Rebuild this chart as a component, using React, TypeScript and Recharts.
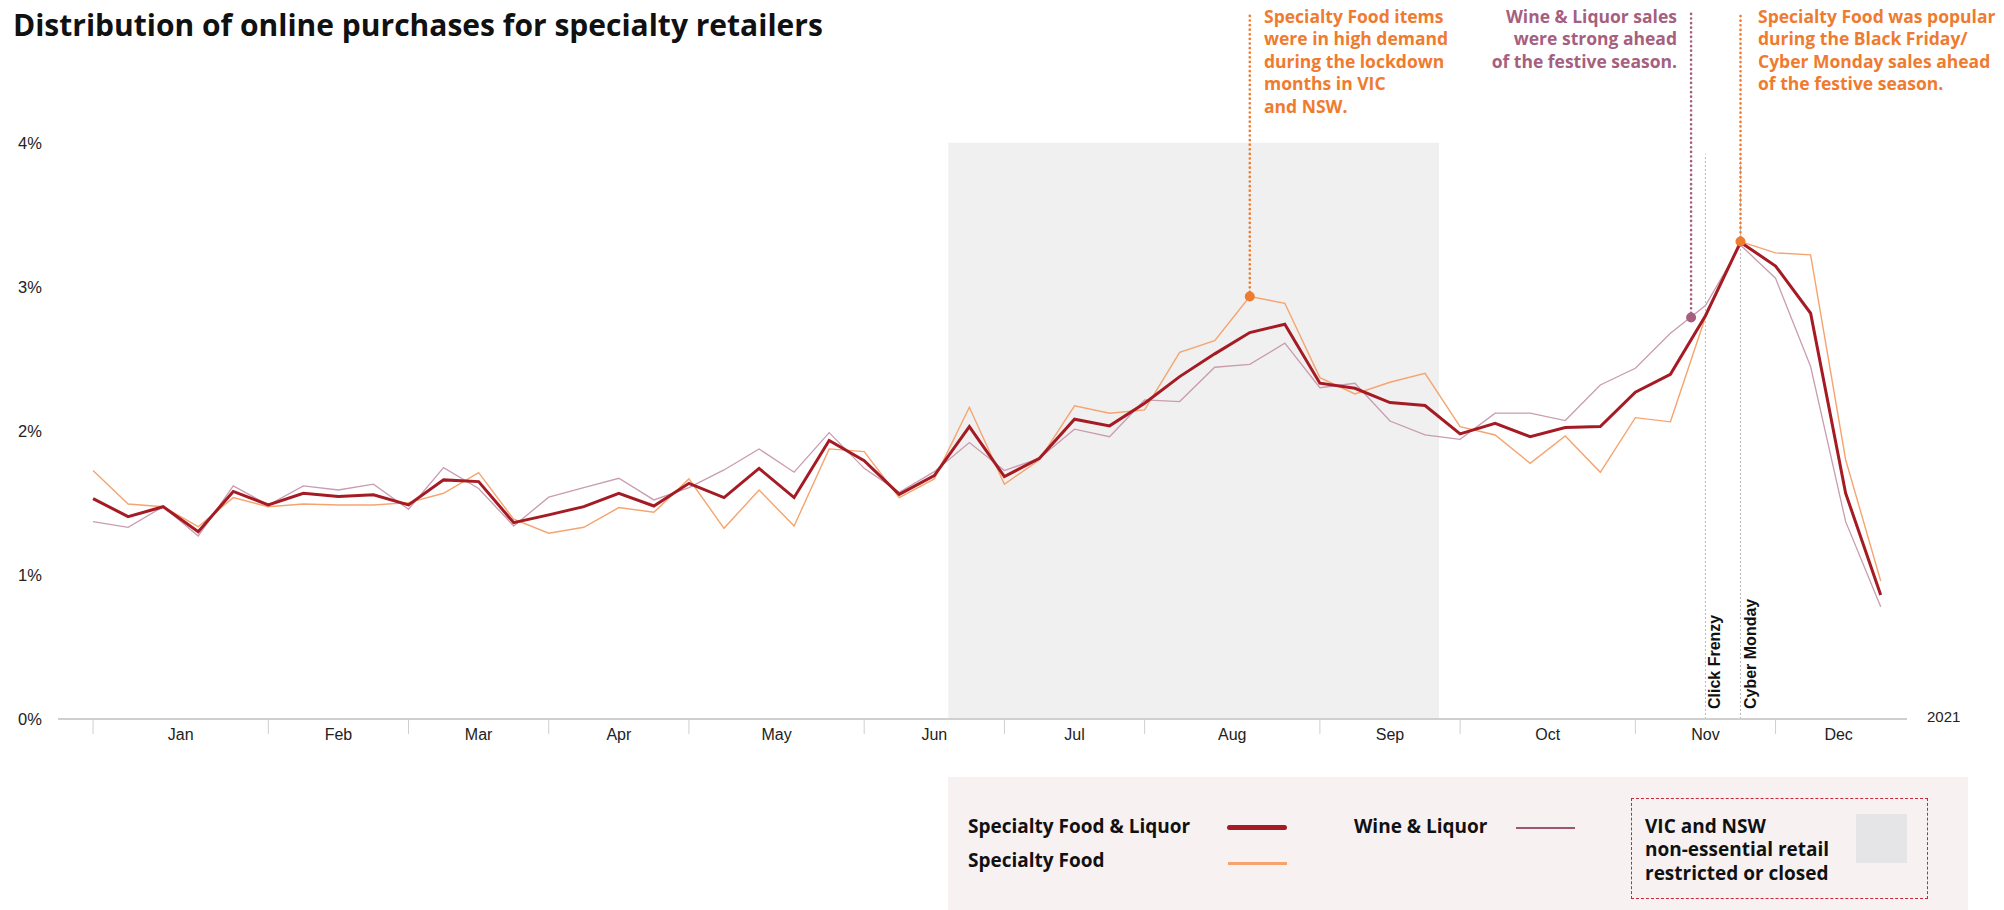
import React from 'react';
import {
  LineChart,
  Line,
  XAxis,
  YAxis,
  ReferenceArea,
  ReferenceLine,
  ReferenceDot,
} from 'recharts';

// weekly share of online purchases (%), 52 weeks of 2021
const foodAndLiquor = [
  1.53, 1.405, 1.474, 1.3, 1.58, 1.486, 1.567, 1.544, 1.556, 1.486, 1.66, 1.648, 1.363,
  1.417, 1.474, 1.567, 1.479, 1.636, 1.537, 1.74, 1.537, 1.933, 1.794, 1.56, 1.69, 2.03,
  1.683, 1.81, 2.081, 2.035, 2.192, 2.377, 2.535, 2.683, 2.74, 2.331, 2.296, 2.197, 2.176,
  1.979, 2.053, 1.96, 2.023, 2.03, 2.269, 2.393, 2.8, 3.31, 3.145, 2.817, 1.567, 0.861,
];
const specialtyFood = [
  1.725, 1.493, 1.474, 1.335, 1.537, 1.474, 1.493, 1.486, 1.486, 1.502, 1.567, 1.71, 1.387,
  1.29, 1.331, 1.468, 1.435, 1.667, 1.324, 1.59, 1.34, 1.875, 1.856, 1.537, 1.667, 2.164,
  1.63, 1.8, 2.174, 2.123, 2.146, 2.546, 2.627, 2.933, 2.886, 2.37, 2.257, 2.338, 2.4,
  2.03, 1.972, 1.775, 1.965, 1.713, 2.092, 2.063, 2.79, 3.315, 3.236, 3.222, 1.8, 0.958,
];
const wineAndLiquor = [
  1.37, 1.331, 1.474, 1.271, 1.618, 1.486, 1.618, 1.59, 1.63, 1.456, 1.745, 1.6, 1.34,
  1.54, 1.606, 1.671, 1.521, 1.606, 1.729, 1.875, 1.713, 1.988, 1.74, 1.574, 1.717, 1.919,
  1.725, 1.81, 2.012, 1.96, 2.215, 2.204, 2.442, 2.462, 2.609, 2.3, 2.331, 2.069, 1.972,
  1.942, 2.123, 2.123, 2.072, 2.319, 2.435, 2.678, 2.87, 3.29, 3.06, 2.447, 1.37, 0.78,
];

const monthNames = ['Jan', 'Feb', 'Mar', 'Apr', 'May', 'Jun', 'Jul', 'Aug', 'Sep', 'Oct', 'Nov', 'Dec'];
const monthStarts = [0, 5, 9, 13, 17, 22, 26, 30, 35, 39, 44, 48];
const yearEnd = 51.6;
const yTicks = [0, 1, 2, 3, 4];

const lockdown = { from: 24.4, to: 38.4, top: 4 };
const salesEvents = [
  { label: 'Click Frenzy', week: 46 },
  { label: 'Cyber Monday', week: 47 },
];
const callouts = [
  { week: 33, value: 2.933, kind: 'food' },
  { week: 45.59, value: 2.787, kind: 'wine' },
  { week: 47, value: 3.315, kind: 'food' },
];

const DARK = '#a51b24';
const ORANGE_LINE = '#f5a46f';
const MAUVE_LINE = '#c99cb0';
const ORANGE = '#ef7b2f';
const MAUVE = '#a65f80';
const AXIS_FONT = '"Liberation Sans", Arial, sans-serif';
const TEXT_FONT = '"Open Sans", sans-serif';

const chartData = foodAndLiquor.map((v, i) => ({
  week: i,
  sfl: v,
  sf: specialtyFood[i],
  wl: wineAndLiquor[i],
}));

const monthMids = monthStarts.map((s, i) => (s + (monthStarts[i + 1] ?? yearEnd)) / 2);
const xTicks = [...monthStarts, ...monthMids].sort((a, b) => a - b);

const MonthTick = (props: any) => {
  const { x, y, payload } = props;
  const v = payload.value;
  if (monthStarts.includes(v)) {
    return <line x1={x} x2={x} y1={y} y2={y + 15} stroke="#cfcfcf" strokeWidth={1} />;
  }
  const idx = monthMids.indexOf(v);
  return (
    <text x={x} y={y + 15} dy="0.35em" textAnchor="middle" fontSize={16} fontFamily={AXIS_FONT} fill="#222">
      {monthNames[idx]}
    </text>
  );
};

const PercentTick = (props: any) => {
  const { y, payload } = props;
  return (
    <text x={18} y={y} dy="0.35em" textAnchor="start" fontSize={16.5} fontFamily={AXIS_FONT} fill="#222">
      {payload.value}%
    </text>
  );
};

const eventLabel = (label: string) => (props: any) => {
  const { cx, cy } = props;
  const tx = cx + 15;
  const ty = cy - 10;
  return (
    <text
      x={tx}
      y={ty}
      transform={`rotate(-90, ${tx}, ${ty})`}
      fontSize={16}
      fontWeight="bold"
      fontFamily={AXIS_FONT}
      fill="#111"
    >
      {label}
    </text>
  );
};

const noteStyle: React.CSSProperties = {
  position: 'absolute',
  top: 4.5,
  fontFamily: TEXT_FONT,
  fontWeight: 700,
  fontSize: 17.5,
  lineHeight: '22.5px',
  whiteSpace: 'nowrap',
};

const legendText: React.CSSProperties = {
  position: 'absolute',
  fontFamily: TEXT_FONT,
  fontWeight: 700,
  fontSize: 19,
  lineHeight: '24px',
  color: '#111',
  whiteSpace: 'nowrap',
};

const App: React.FC = () => {
  return (
    <div style={{ position: 'absolute', left: 0, top: 0, width: 2004, height: 910, background: '#fff', overflow: 'hidden' }}>
      <LineChart width={2004} height={910} data={chartData} margin={{ top: 6, right: 97, left: 18, bottom: 0 }}>
        <XAxis
          type="number"
          dataKey="week"
          domain={[-1, 51.75]}
          ticks={xTicks}
          interval={0}
          tickSize={0}
          tickMargin={0}
          tickLine={false}
          axisLine={{ stroke: '#cfcfcf', strokeWidth: 2 }}
          tick={<MonthTick />}
          height={191}
        />
        <YAxis
          type="number"
          domain={[0, 4.95]}
          ticks={yTicks}
          axisLine={false}
          tickLine={false}
          tick={<PercentTick />}
          width={40}
        />
        <ReferenceArea
          x1={lockdown.from}
          x2={lockdown.to}
          y1={0}
          y2={lockdown.top}
          fill="#f0f0f0"
          fillOpacity={1}
          stroke="none"
        />
        {salesEvents.map((e) => (
          <ReferenceLine
            key={e.label}
            segment={[{ x: e.week, y: 0 }, { x: e.week, y: 3.92 }]}
            stroke="#b8b8b8"
            strokeWidth={1}
            strokeDasharray="2 2"
          />
        ))}
        <Line type="linear" dataKey="wl" stroke={MAUVE_LINE} strokeWidth={1.3} dot={false} isAnimationActive={false} />
        <Line type="linear" dataKey="sf" stroke={ORANGE_LINE} strokeWidth={1.4} dot={false} isAnimationActive={false} />
        <Line type="linear" dataKey="sfl" stroke={DARK} strokeWidth={3} dot={false} isAnimationActive={false} />
        {callouts.map((c, i) => (
          <ReferenceLine
            key={`cl-${i}`}
            segment={[{ x: c.week, y: c.value }, { x: c.week, y: 4.91 }]}
            stroke={c.kind === 'food' ? ORANGE : MAUVE}
            strokeWidth={2.6}
            strokeDasharray="0.1 4.5"
            strokeLinecap="round"
          />
        ))}
        {callouts.map((c, i) => (
          <ReferenceDot
            key={`cd-${i}`}
            x={c.week}
            y={c.value}
            r={5}
            fill={c.kind === 'food' ? ORANGE : MAUVE}
            stroke="none"
          />
        ))}
        {salesEvents.map((e) => (
          <ReferenceDot key={`lbl-${e.label}`} x={e.week} y={0} r={0} shape={eventLabel(e.label)} />
        ))}
      </LineChart>

      <div
        style={{
          position: 'absolute',
          left: 13,
          top: 7,
          fontFamily: TEXT_FONT,
          fontWeight: 700,
          fontSize: 30,
          lineHeight: '36px',
          letterSpacing: 0,
          color: '#111',
          whiteSpace: 'nowrap',
        }}
      >
        Distribution of online purchases for specialty retailers
      </div>

      <div style={{ ...noteStyle, left: 1264, color: ORANGE }}>
        Specialty Food items
        <br />
        were in high demand
        <br />
        during the lockdown
        <br />
        months in VIC
        <br />
        and NSW.
      </div>
      <div style={{ ...noteStyle, right: 2004 - 1677, color: MAUVE, textAlign: 'right' }}>
        Wine &amp; Liquor sales
        <br />
        were strong ahead
        <br />
        of the festive season.
      </div>
      <div style={{ ...noteStyle, left: 1758, color: ORANGE }}>
        Specialty Food was popular
        <br />
        during the Black Friday/
        <br />
        Cyber Monday sales ahead
        <br />
        of the festive season.
      </div>

      <div
        style={{
          position: 'absolute',
          left: 1927,
          top: 708,
          fontFamily: AXIS_FONT,
          fontSize: 15,
          lineHeight: '18px',
          color: '#222',
        }}
      >
        2021
      </div>

      {/* legend */}
      <div style={{ position: 'absolute', left: 948, top: 777, width: 1020, height: 133, background: '#f8f1f1' }} />
      <div style={{ ...legendText, left: 968, top: 814 }}>Specialty Food &amp; Liquor</div>
      <div style={{ position: 'absolute', left: 1227, top: 824.5, width: 60, height: 5, borderRadius: 3, background: DARK }} />
      <div style={{ ...legendText, left: 968, top: 848 }}>Specialty Food</div>
      <div style={{ position: 'absolute', left: 1228, top: 862, width: 59, height: 2.5, background: ORANGE_LINE }} />
      <div style={{ ...legendText, left: 1354, top: 814 }}>Wine &amp; Liquor</div>
      <div style={{ position: 'absolute', left: 1516, top: 827, width: 59, height: 2, background: '#9c5572' }} />
      <div
        style={{
          position: 'absolute',
          left: 1631,
          top: 798,
          width: 297,
          height: 101,
          boxSizing: 'border-box',
          border: '1.5px dashed #c8283c',
        }}
      />
      <div style={{ ...legendText, left: 1645, top: 814.5, lineHeight: '23.5px' }}>
        VIC and NSW
        <br />
        non-essential retail
        <br />
        restricted or closed
      </div>
      <div style={{ position: 'absolute', left: 1856, top: 814, width: 51, height: 49, background: '#e5e5e8' }} />
    </div>
  );
};

export default App;
